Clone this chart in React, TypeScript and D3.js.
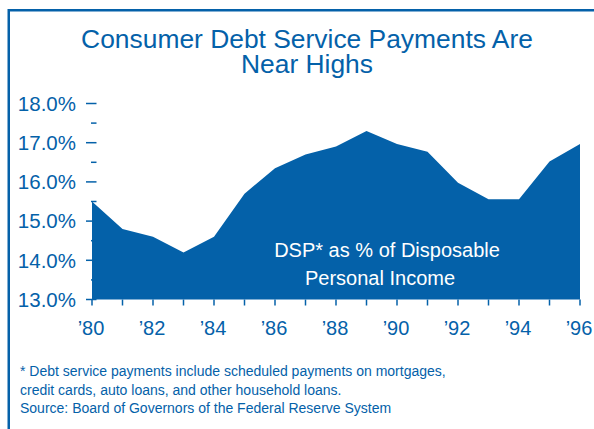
import * as d3 from "d3";

const W = 594;
const H = 429;
const BLUE = "#0461a9";
const FONT = "'Liberation Sans', Arial, Helvetica, sans-serif";

const YEARS = [
  1980, 1981, 1982, 1983, 1984, 1985, 1986, 1987, 1988, 1989, 1990, 1991, 1992,
  1993, 1994, 1995, 1996,
];
const DSP = [
  15.5, 14.8, 14.6, 14.2, 14.6, 15.7, 16.35, 16.7, 16.9, 17.3, 16.97, 16.77,
  15.98, 15.56, 15.56, 16.52, 16.97,
];
const Y_TICKS = [13, 14, 15, 16, 17, 18];
const Y_MINOR = [13.5, 14.5, 15.5, 16.5, 17.5];
const X_LABELS = [1980, 1982, 1984, 1986, 1988, 1990, 1992, 1994, 1996];
const TITLE = ["Consumer Debt Service Payments Are", "Near Highs"];
const NOTE = ["DSP* as % of Disposable", "Personal Income"];
const FOOTNOTE = [
  "* Debt service payments include scheduled payments on mortgages,",
  "credit cards, auto loans, and other household loans.",
  "Source: Board of Governors of the Federal Reserve System",
];

export default function App() {
  const x = d3.scaleLinear().domain([1980, 1996]).range([92, 580]);
  const y = d3.scaleLinear().domain([13, 18]).range([299.5, 103.5]);

  const area = d3
    .area<number>()
    .x((_, i) => x(YEARS[i]))
    .y0(y(13))
    .y1((d) => y(d));

  const fmtYear = (yr: number) => "\u2019" + String(yr).slice(2);

  return (
    <svg
      width={W}
      height={H}
      style={{ position: "absolute", left: 0, top: 0, background: "#fff" }}
      fontFamily={FONT}
    >
      {/* marco */}
      <rect
        x={8.75}
        y={10.25}
        width={W + 20}
        height={H + 20}
        fill="none"
        stroke={BLUE}
        strokeWidth={2.5}
      />

      {TITLE.map((t, i) => (
        <text
          key={t}
          x={307}
          y={48 + i * 25}
          textAnchor="middle"
          fontSize={26.4}
          fill={BLUE}
        >
          {t}
        </text>
      ))}

      <path d={area(DSP) ?? ""} fill={BLUE} />

      {/* eje Y */}
      {Y_TICKS.map((t) => (
        <g key={t}>
          <line
            x1={86}
            x2={96.5}
            y1={y(t)}
            y2={y(t)}
            stroke={BLUE}
            strokeWidth={1.5}
          />
          <text
            x={76}
            y={y(t) + 7.3}
            textAnchor="end"
            fontSize={20.5}
            fill={BLUE}
          >
            {t.toFixed(1)}%
          </text>
        </g>
      ))}
      {Y_MINOR.map((t) => (
        <line
          key={t}
          x1={91}
          x2={96.5}
          y1={y(t)}
          y2={y(t)}
          stroke={BLUE}
          strokeWidth={1.5}
        />
      ))}

      {/* eje X */}
      {YEARS.map((yr) => (
        <line
          key={yr}
          x1={x(yr)}
          x2={x(yr)}
          y1={y(13)}
          y2={y(13) + 6}
          stroke={BLUE}
          strokeWidth={1.5}
        />
      ))}
      {X_LABELS.map((yr) => (
        <text
          key={yr}
          x={x(yr) - 1}
          y={335}
          textAnchor="middle"
          fontSize={20}
          fill={BLUE}
        >
          {fmtYear(yr)}
        </text>
      ))}

      {/* etiqueta dentro del área */}
      <text x={387} y={256.7} textAnchor="middle" fontSize={20} fill="#fff">
        {NOTE[0]}
      </text>
      <text x={380} y={285} textAnchor="middle" fontSize={20} fill="#fff">
        {NOTE[1]}
      </text>

      {FOOTNOTE.map((t, i) => (
        <text key={t} x={20} y={376 + i * 18.5} fontSize={14} fill={BLUE}>
          {t}
        </text>
      ))}
    </svg>
  );
}
